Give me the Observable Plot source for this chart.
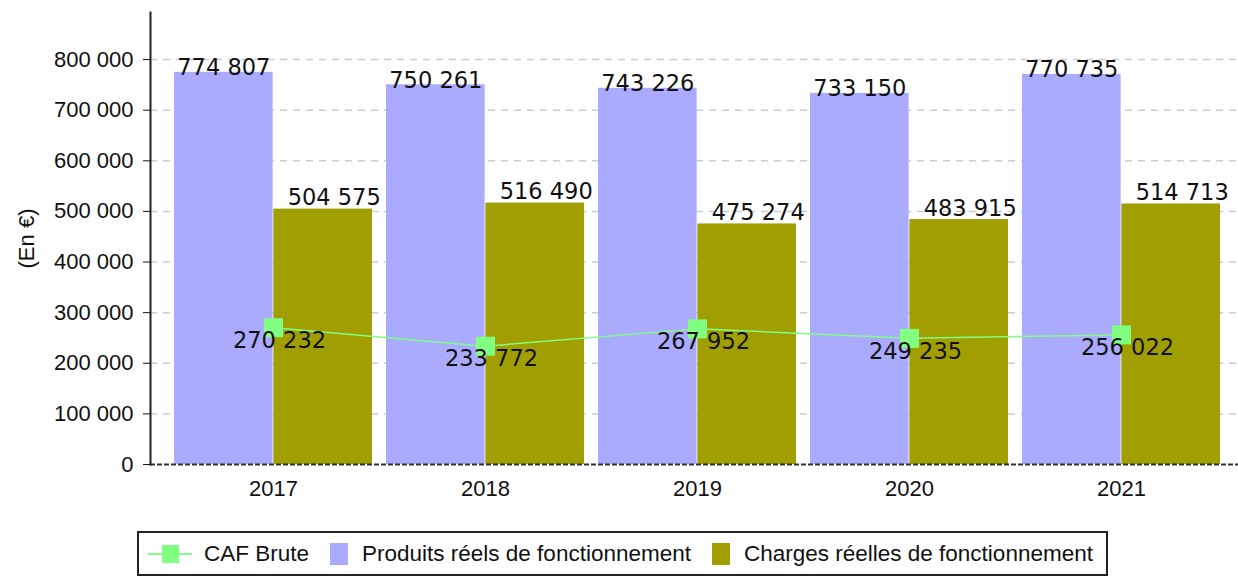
<!DOCTYPE html>
<html>
<head>
<meta charset="utf-8">
<script src="https://cdn.jsdelivr.net/npm/d3@7"></script>
<script src="https://cdn.jsdelivr.net/npm/@observablehq/plot@0.6"></script>
<style>
  html, body { margin: 0; padding: 0; background: #fff; }
  #chart { width: 1238px; }
  #legend {
    box-sizing: border-box;
    margin-left: 137px;
    margin-top: 11px;
    width: 971px;
    height: 45px;
    border: 2px solid #222;
    display: flex;
    align-items: center;
    padding-left: 9px;
    font-family: "Liberation Sans", Arial, sans-serif;
    font-size: 22.5px;
    color: #111;
    white-space: nowrap;
    overflow: hidden;
  }
  #legend .item { display: flex; align-items: center; margin-right: 21px; flex-shrink: 0; }
  #legend .sw { display: inline-block; width: 18px; height: 22px; margin-right: 14px; flex-shrink: 0; }
</style>
</head>
<body>
<div id="chart"></div>
<div id="legend"></div>
<script>
const years = ["2017", "2018", "2019", "2020", "2021"];
const produits = [774807, 750261, 743226, 733150, 770735];
const charges = [504575, 516490, 475274, 483915, 514713];
const caf = [270232, 233772, 267952, 249235, 256022];
const yTicks = [0, 100000, 200000, 300000, 400000, 500000, 600000, 700000, 800000];
const seriesNames = ["CAF Brute", "Produits réels de fonctionnement", "Charges réelles de fonctionnement"];
const seriesColors = ["#80ff80", "#aaaaff", "#a09e00"];

const rows = years.map((year, i) => ({year, produits: produits[i], charges: charges[i], caf: caf[i]}));
const fr = d3.formatLocale({decimal: ",", thousands: " ", grouping: [3], currency: ["", " €"]});
const fmt = fr.format(",d");

const half = 99.4;
const valueFont = "DejaVu Sans, sans-serif";

const chart = Plot.plot({
  width: 1238,
  height: 520,
  marginLeft: 150,
  marginRight: 0,
  marginTop: 12,
  marginBottom: 56,
  style: {fontFamily: "Liberation Sans, Arial, sans-serif", fontSize: "22px", color: "#111", background: "#fff"},
  x: {type: "band", domain: years, paddingInner: 0.065, paddingOuter: 0.03, insetLeft: 16, insetRight: 10,
      tickSize: 0, tickPadding: 16, label: null},
  y: {domain: [0, 893000], ticks: yTicks, tickFormat: fmt, tickSize: 7, tickPadding: 10,
      label: "(En €)", labelAnchor: "center", labelOffset: 132, labelArrow: "none"},
  marks: [
    Plot.ruleY(yTicks.slice(1), {stroke: "#cccccc", strokeDasharray: "7,6", strokeWidth: 1.5}),
    Plot.barY(rows, {x: "year", y: "produits", fill: seriesColors[1], insetRight: half}),
    Plot.barY(rows, {x: "year", y: "charges", fill: seriesColors[2], insetLeft: half}),
    Plot.ruleY([0], {stroke: "#333", strokeDasharray: "5,2", strokeWidth: 2}),
    Plot.frame({anchor: "left", stroke: "#222", strokeWidth: 2}),
    Plot.lineY(rows, {x: "year", y: "caf", stroke: seriesColors[0], strokeWidth: 1.5}),
    Plot.dot(rows, {x: "year", y: "caf", symbol: "square", r: 10.7, fill: seriesColors[0], stroke: "none"}),
    Plot.text(rows, {x: "year", y: "produits", text: d => fmt(d.produits), dx: -half / 2, dy: 3,
      lineAnchor: "bottom", fontSize: 22.5, fontFamily: valueFont, fill: "#111"}),
    Plot.text(rows, {x: "year", y: "charges", text: d => fmt(d.charges), dx: half / 2 + 11, dy: -4,
      lineAnchor: "bottom", fontSize: 22.5, fontFamily: valueFont, fill: "#111"}),
    Plot.text(rows, {x: "year", y: "caf", text: d => fmt(d.caf), dx: 6, dy: 13,
      lineAnchor: "middle", fontSize: 22.5, fontFamily: valueFont, fill: "#111"})
  ]
});
document.getElementById("chart").appendChild(chart);

// Legend
const legend = document.getElementById("legend");
seriesNames.forEach((name, i) => {
  const item = document.createElement("div");
  item.className = "item";
  if (i === 0) {
    const ns = "http://www.w3.org/2000/svg";
    const svg = document.createElementNS(ns, "svg");
    svg.setAttribute("width", 44); svg.setAttribute("height", 22);
    svg.style.marginRight = "12px";
    svg.style.flexShrink = "0";
    const line = document.createElementNS(ns, "line");
    line.setAttribute("x1", 0); line.setAttribute("x2", 44); line.setAttribute("y1", 11); line.setAttribute("y2", 11);
    line.setAttribute("stroke", seriesColors[0]); line.setAttribute("stroke-width", 2);
    const rect = document.createElementNS(ns, "rect");
    rect.setAttribute("x", 14); rect.setAttribute("y", 2); rect.setAttribute("width", 17); rect.setAttribute("height", 18);
    rect.setAttribute("fill", seriesColors[0]);
    svg.appendChild(line); svg.appendChild(rect);
    item.appendChild(svg);
  } else {
    const sw = document.createElement("span");
    sw.className = "sw";
    sw.style.background = seriesColors[i];
    item.appendChild(sw);
  }
  const t = document.createElement("span");
  t.textContent = name;
  item.appendChild(t);
  legend.appendChild(item);
});
</script>
</body>
</html>
